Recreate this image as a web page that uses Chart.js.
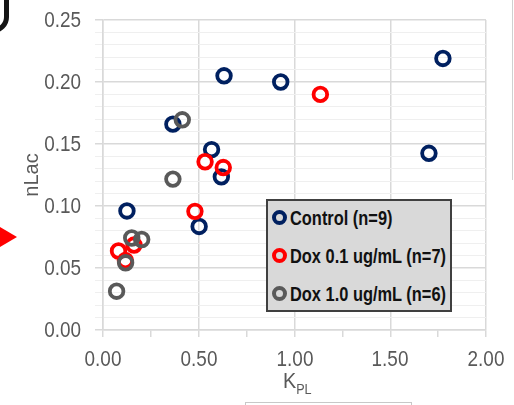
<!DOCTYPE html>
<html>
<head>
<meta charset="utf-8">
<script src="https://cdn.jsdelivr.net/npm/chart.js@4.4.1/dist/chart.umd.min.js"></script>
<style>
  html, body { margin: 0; padding: 0; background: #fff; }
  #wrap { position: relative; width: 514px; height: 405px; overflow: hidden; font-family: "Liberation Sans", Arial, sans-serif; }
  #chart { position: absolute; left: 0; top: 0; }
  .deco-corner { position: absolute; left: -40px; top: -30px; width: 49px; height: 63px; box-sizing: border-box;
    border: 5px solid #151515; border-radius: 0 0 16px 0; }
  .deco-arrow { position: absolute; left: 0; top: 227px; width: 0; height: 0;
    border-top: 10px solid transparent; border-bottom: 10px solid transparent; border-left: 17px solid #ff0000; }
  .deco-vline { position: absolute; left: 512px; top: 0; width: 1px; height: 180px; background: #d0d0d0; }
  .deco-box { position: absolute; left: 245px; top: 402px; width: 165px; height: 20px; border: 1px solid #c8c8c8; }
  .tick { position: absolute; width: 60px; font-size: 22px; line-height: 22px; color: #595959; white-space: nowrap; }
  .tick.x { text-align: center; transform: scaleX(0.86); transform-origin: 50% 50%; }
  .tick.y { text-align: right; transform: scaleX(0.86); transform-origin: 100% 50%; }
  #ytitle { position: absolute; left: 31px; top: 175px; font-size: 20px; line-height: 20px; color: #595959;
    transform: translate(-50%, -50%) rotate(-90deg); white-space: nowrap; }
  #xtitle { position: absolute; left: 283px; top: 370px; font-size: 22px; line-height: 22px; color: #595959;
    transform: scaleX(0.9); transform-origin: 0 50%; white-space: nowrap; }
  #xtitle sub { font-size: 14px; vertical-align: -6px; }
  #legend { position: absolute; left: 266px; top: 199px; width: 186px; height: 113px; box-sizing: border-box;
    background: #d9d9d9; border: 2px solid #404040; }
  .lg-row { position: absolute; left: 0; height: 20px; }
  .lg-mark { position: absolute; left: 4px; top: 2px; width: 7px; height: 7px; border: 4px solid; border-radius: 50%; }
  .lg-text { position: absolute; left: 22px; top: 0; font-size: 20.5px; line-height: 20px; font-weight: bold; color: #111;
    white-space: nowrap; transform: scaleX(0.8); transform-origin: 0 50%; }
</style>
</head>
<body>
<div id="wrap">
  <canvas id="chart" width="514" height="405"></canvas>
  <div class="deco-corner"></div>
  <div class="deco-arrow"></div>
  <div class="deco-vline"></div>
  <div class="deco-box"></div>
  <div id="ticks"></div>
  <div id="ytitle">nLac</div>
  <div id="xtitle">K<sub>PL</sub></div>
  <div id="legend"></div>
</div>
<script>
// values
const controlK = [0.125, 0.365, 0.632, 0.567, 0.618, 0.502, 0.928, 1.702, 1.775];
const controlLac = [0.096, 0.166, 0.205, 0.1455, 0.1235, 0.0835, 0.200, 0.1425, 0.219];
const dox01K = [1.135, 0.533, 0.628, 0.480, 0.081, 0.162, 0.117];
const dox01Lac = [0.190, 0.1357, 0.131, 0.0957, 0.0637, 0.0685, 0.056];
const dox10K = [0.414, 0.365, 0.150, 0.202, 0.118, 0.071];
const dox10Lac = [0.1695, 0.1217, 0.0742, 0.073, 0.0542, 0.0313];

const seriesLabels = ['Control (n=9)', 'Dox 0.1 ug/mL (n=7)', 'Dox 1.0 ug/mL (n=6)'];
const seriesColors = ['#002060', '#ff0000', '#595959'];

const toPoints = (xs, ys) => xs.map((x, i) => ({ x: x, y: ys[i] }));

const majorGrid = '#d9d9d9';
const minorGrid = '#efefef';
const isMajorX = (v) => Math.round(v * 4) % 2 === 0;
const isMajorY = (v) => Math.round(v * 100) % 5 === 0;

const mkSet = (i, pts, order) => ({
  label: seriesLabels[i],
  data: pts,
  borderColor: seriesColors[i],
  backgroundColor: 'rgba(0,0,0,0)',
  pointRadius: 6.8,
  pointHoverRadius: 6.8,
  pointBorderWidth: 3.8,
  order: order
});

// tick labels as html text, placed from the chart's own scales
const htmlTicks = {
  id: 'htmlTicks',
  afterRender(chart) {
    const box = document.getElementById('ticks');
    box.innerHTML = '';
    const xs = chart.scales.x, ys = chart.scales.y;
    xs.ticks.forEach((t) => {
      if (!isMajorX(t.value)) return;
      const d = document.createElement('div');
      d.className = 'tick x';
      d.textContent = t.value.toFixed(2);
      d.style.left = (xs.getPixelForValue(t.value) - 30) + 'px';
      d.style.top = (xs.top + 29 - 10.7) + 'px';
      box.appendChild(d);
    });
    ys.ticks.forEach((t) => {
      if (!isMajorY(t.value)) return;
      const d = document.createElement('div');
      d.className = 'tick y';
      d.textContent = t.value.toFixed(2);
      d.style.left = (ys.right - 22 - 60) + 'px';
      d.style.top = (ys.getPixelForValue(t.value) - 10.7) + 'px';
      box.appendChild(d);
    });
  }
};

const ctx = document.getElementById('chart').getContext('2d');
const chart = new Chart(ctx, {
  type: 'scatter',
  data: {
    datasets: [
      mkSet(0, toPoints(controlK, controlLac), 2),
      mkSet(1, toPoints(dox01K, dox01Lac), 1),
      mkSet(2, toPoints(dox10K, dox10Lac), 0)
    ]
  },
  plugins: [htmlTicks],
  options: {
    responsive: false,
    animation: false,
    devicePixelRatio: 1,
    layout: { padding: { left: 0, top: 20, right: 28, bottom: 0 } },
    plugins: { legend: { display: false }, tooltip: { enabled: false } },
    scales: {
      x: {
        type: 'linear',
        min: 0,
        max: 2,
        afterFit: (s) => { s.height = 75; },
        border: { display: true, color: majorGrid, width: 1.5 },
        grid: {
          color: (c) => (isMajorX(c.tick.value) ? majorGrid : 'rgba(0,0,0,0)'),
          tickColor: majorGrid,
          lineWidth: 1.5,
          tickLength: 7
        },
        ticks: { stepSize: 0.25, autoSkip: false, display: false }
      },
      y: {
        min: 0,
        max: 0.25,
        afterFit: (s) => { s.width = 103; },
        border: { display: true, color: majorGrid, width: 1.5 },
        grid: {
          color: (c) => (isMajorY(c.tick.value) ? majorGrid : minorGrid),
          lineWidth: (c) => (isMajorY(c.tick.value) ? 1.5 : 1),
          tickLength: 8
        },
        ticks: { stepSize: 0.01, autoSkip: false, display: false }
      }
    }
  }
});

// legend box inside the plot
const legend = document.getElementById('legend');
const rowTops = [7, 45, 83];
chart.data.datasets.forEach((ds, i) => {
  const row = document.createElement('div');
  row.className = 'lg-row';
  row.style.top = rowTops[i] + 'px';
  row.innerHTML = '<div class="lg-mark" style="border-color:' + ds.borderColor + '"></div>' +
    '<div class="lg-text">' + ds.label + '</div>';
  legend.appendChild(row);
});
</script>
</body>
</html>
